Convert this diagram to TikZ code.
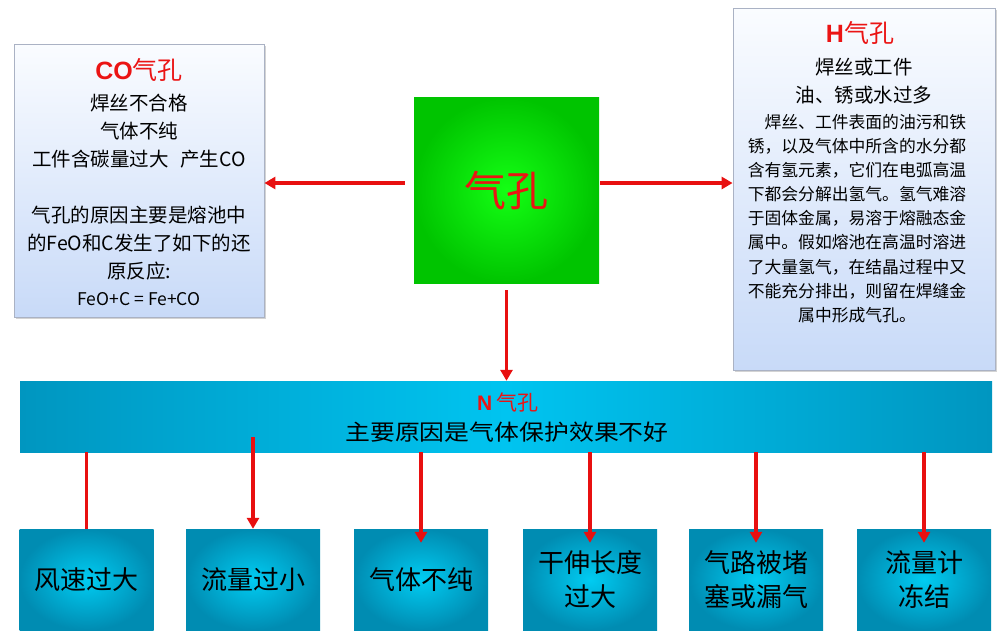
\documentclass[tikz,border=0pt]{standalone}
\usepackage{fontspec}
\setmainfont{Noto Sans CJK SC}
\newfontfamily\latinb{Liberation Sans}
\usetikzlibrary{arrows.meta,shadows,calc}
\definecolor{arrred}{RGB}{232,16,16}
\definecolor{titred}{RGB}{235,20,20}
\definecolor{boxtop}{RGB}{250,252,255}
\definecolor{boxbot}{RGB}{200,218,248}
\definecolor{boxline}{RGB}{170,178,196}
\definecolor{gin}{RGB}{20,255,20}
\definecolor{gout}{RGB}{0,196,0}
\definecolor{cin}{RGB}{0,204,242}
\definecolor{cout}{RGB}{0,140,178}
\definecolor{barmid}{RGB}{0,196,240}
\definecolor{barside}{RGB}{0,150,192}
\begin{document}
\begin{tikzpicture}[x=1pt,y=-1pt,
  infobox/.style={draw=boxline, line width=0.8pt, top color=boxtop, bottom color=boxbot,
    drop shadow={opacity=0.35, shadow xshift=2pt, shadow yshift=-2pt}, inner sep=0pt},
  cause/.style={inner color=cin, outer color=cout, minimum width=134, minimum height=101,
    inner sep=0pt, align=center, font=\fontsize{26}{34}\selectfont},
  arr/.style={draw=arrred, line width=3.5pt, -{Triangle[length=11pt,width=12pt]}},
  redline/.style={draw=arrred, line width=3.5pt},
  txt/.style={inner sep=0pt, align=center}]
\useasboundingbox (0,0) rectangle (999,638);

% CO box
\node[infobox, minimum width=250, minimum height=273] (co) at (139,180.5) {};
\node[txt, text=titred, font=\fontsize{25}{28}\selectfont] (cot) at (139,70) {{\latinb\bfseries CO}气孔};
\node[txt, font=\fontsize{19.5}{28}\selectfont] (cob) at (139,187) {焊丝不合格\\气体不纯\\工件含碳量过大\hspace{0.6em}产生CO\\[28pt]气孔的原因主要是熔池中\\的FeO和C发生了如下的还\\原反应:};
\node[txt, font=\fontsize{17.5}{20}\selectfont] (coe) at (139,299) {FeO+C = Fe+CO};

% H box
\node[infobox, minimum width=262, minimum height=362] (hb) at (864,189) {};
\node[txt, text=titred, font=\fontsize{25}{28}\selectfont] (ht) at (860,33) {{\latinb\bfseries H}气孔};
\node[txt, font=\fontsize{19.5}{28}\selectfont] (hs) at (864,81) {焊丝或工件\\油、锈或水过多};
\node[txt, font=\fontsize{16.8}{24.1}\selectfont] (hp) at (857,218.5) {\hspace*{1em}焊丝、工件表面的油污和铁\\锈，以及气体中所含的水分都\\含有氢元素，它们在电弧高温\\下都会分解出氢气。氢气难溶\\于固体金属，易溶于熔融态金\\属中。假如熔池在高温时溶进\\了大量氢气，在结晶过程中又\\不能充分排出，则留在焊缝金\\属中形成气孔。};

% green box
\node[inner color=gin, outer color=gout, minimum width=185, minimum height=186, inner sep=0pt,
  text=titred, font=\fontsize{42}{48}\selectfont] (g) at (506.5,190) {气孔};

% N bar
\node[left color=barside, right color=barside, middle color=barmid, minimum width=972, minimum height=71, inner sep=0pt] (bar) at (506,416.5) {};
\node[txt, text=titred, font=\fontsize{21}{24}\selectfont] (nt) at (508,402) {{\latinb\bfseries N} 气孔};
\node[txt, font=\fontsize{22}{26}\selectfont] (nm) at (507,432) {\scalebox{1.13}[1]{主要原因是气体保护效果不好}};

% cause boxes
\node[cause] (b1) at (86.5,579.5) {风速过大};
\node[cause] (b2) at (253,579.5) {流量过小};
\node[cause] (b3) at (421,579.5) {气体不纯};
\node[cause] (b4) at (590,579.5) {干伸长度\\过大};
\node[cause] (b5) at (756,579.5) {气路被堵\\塞或漏气};
\node[cause] (b6) at (924,579.5) {流量计\\冻结};

% arrows from green box
\draw[arr] ([xshift=-9pt,yshift=7pt]g.west) -- ([yshift=7pt]g.west -| co.east);
\draw[arr] ([xshift=1pt,yshift=7pt]g.east) -- ([yshift=7pt]g.east -| hb.west);
\draw[arr] ([yshift=-7pt]g.south) -- (g.south |- bar.north);

% connectors to causes
\draw[redline] (b1.north |- bar.south) -- (b1.north);
\draw[arr] ($(b2.north |- bar.south)+(0,-15)$) -- (b2.north);
\draw[arr] (b3.north |- bar.south) -- ([yshift=-14pt]b3.north);
\draw[arr] (b4.north |- bar.south) -- ([yshift=-14pt]b4.north);
\draw[arr] (b5.north |- bar.south) -- ([yshift=-14pt]b5.north);
\draw[arr] (b6.north |- bar.south) -- ([yshift=-14pt]b6.north);
\end{tikzpicture}
\end{document}
